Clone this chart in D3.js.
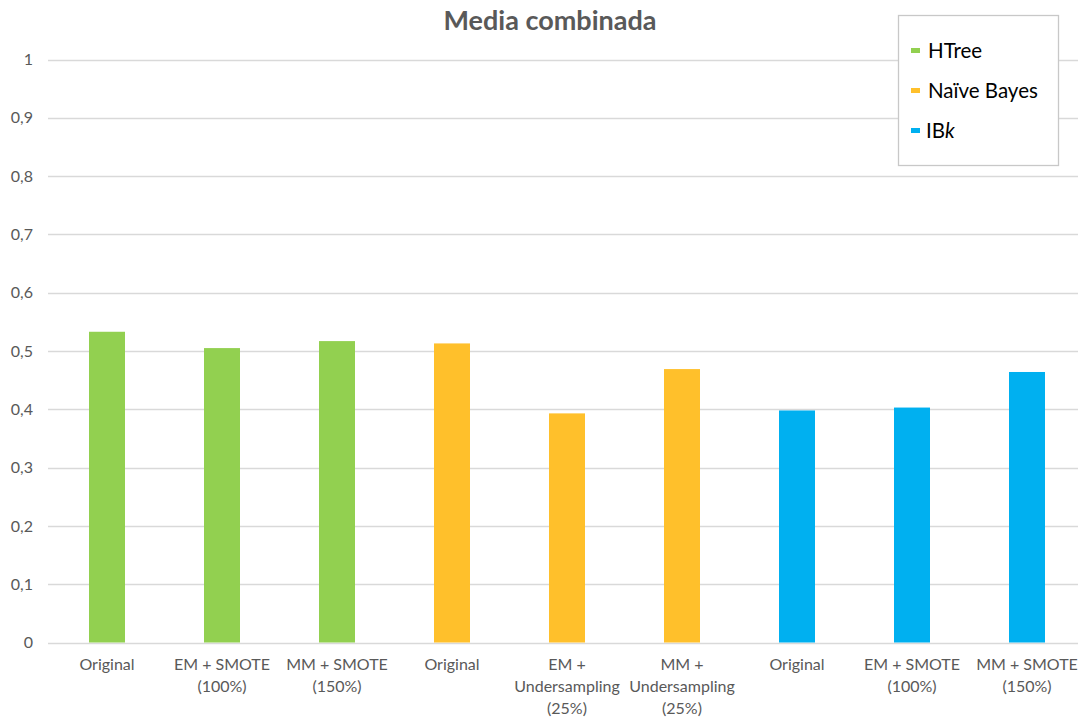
<!DOCTYPE html>
<html>
<head>
<meta charset="utf-8">
<script src="https://cdn.jsdelivr.net/npm/d3@7"></script>
<style>
  html, body { margin: 0; padding: 0; background: #fff; }
  svg { display: block; }
</style>
</head>
<body>
<svg id="chart" width="1078" height="717"></svg>
<script>
// Category labels (multi-line) along the x axis
const categories = [
  ["Original"],
  ["EM + SMOTE", "(100%)"],
  ["MM + SMOTE", "(150%)"],
  ["Original"],
  ["EM +", "Undersampling", "(25%)"],
  ["MM +", "Undersampling", "(25%)"],
  ["Original"],
  ["EM + SMOTE", "(100%)"],
  ["MM + SMOTE", "(150%)"]
];
// Classifier each bar belongs to
const classifiers = ["HTree", "HTree", "HTree", "Naïve Bayes", "Naïve Bayes", "Naïve Bayes", "IBk", "IBk", "IBk"];
// Combined mean values
const values = [0.533, 0.505, 0.517, 0.513, 0.393, 0.469, 0.398, 0.403, 0.464];
const yTicks = [0, 0.1, 0.2, 0.3, 0.4, 0.5, 0.6, 0.7, 0.8, 0.9, 1];
const seriesNames = ["HTree", "Naïve Bayes", "IBk"];
const seriesColors = ["#92D050", "#FFC02B", "#00B0F0"];

const svg = d3.select("#chart");
const font = "Lato, 'Open Sans', 'Liberation Sans', sans-serif";

const x = d3.scaleBand()
  .domain(d3.range(categories.length))
  .range([49.5, 1084.5])
  .paddingInner(0.687)
  .paddingOuter(0.3435);
const y = d3.scaleLinear().domain([0, 1]).range([642.5, 59.5]);
const color = d3.scaleOrdinal().domain(seriesNames).range(seriesColors);

// Horizontal gridlines
svg.append("g")
  .selectAll("line")
  .data(yTicks)
  .join("line")
  .attr("x1", 48).attr("x2", 1078)
  .attr("y1", d => Math.round(y(d)) + 0.5)
  .attr("y2", d => Math.round(y(d)) + 0.5)
  .attr("stroke", "#d9d9d9")
  .attr("stroke-width", 1.3);

// Y tick labels
svg.append("g")
  .selectAll("text")
  .data(yTicks)
  .join("text")
  .attr("x", 33)
  .attr("y", d => y(d))
  .attr("dy", "0.35em")
  .attr("text-anchor", "end")
  .attr("font-family", font)
  .attr("font-size", 16)
  .attr("fill", "#595959")
  .text(d => d3.format(".1~f")(d).replace(".", ","));

// Bars
svg.append("g")
  .selectAll("rect")
  .data(values)
  .join("rect")
  .attr("x", (d, i) => x(i))
  .attr("width", x.bandwidth())
  .attr("y", d => y(d))
  .attr("height", d => y(0) - y(d))
  .attr("fill", (d, i) => color(classifiers[i]));

// X category labels
const xl = svg.append("g")
  .selectAll("text")
  .data(categories)
  .join("text")
  .attr("x", (d, i) => x(i) + x.bandwidth() / 2)
  .attr("y", 670)
  .attr("text-anchor", "middle")
  .attr("font-family", font)
  .attr("font-size", 16)
  .attr("fill", "#595959");
xl.selectAll("tspan")
  .data(d => d)
  .join("tspan")
  .attr("x", function () { return d3.select(this.parentNode).attr("x"); })
  .attr("dy", (d, i) => i === 0 ? 0 : 22)
  .text(d => d);

// Title
svg.append("text")
  .attr("x", 550)
  .attr("y", 30)
  .attr("text-anchor", "middle")
  .attr("font-family", font)
  .attr("font-size", 27)
  .attr("font-weight", "bold")
  .attr("fill", "#595959")
  .text("Media combinada");

// Legend
const lg = svg.append("g");
lg.append("rect")
  .attr("x", 898.5).attr("y", 15.5)
  .attr("width", 160).attr("height", 150)
  .attr("fill", "#fff")
  .attr("stroke", "#c8c8c8")
  .attr("stroke-width", 1.3);
const items = lg.selectAll("g")
  .data(seriesNames)
  .join("g")
  .attr("transform", (d, i) => `translate(911, ${51 + i * 40})`);
items.append("rect")
  .attr("x", 0).attr("y", -3)
  .attr("width", 9).attr("height", 5)
  .attr("fill", d => color(d));
const lt = items.append("text")
  .attr("x", d => d === "IBk" ? 15 : 17)
  .attr("y", 0)
  .attr("dy", "0.35em")
  .attr("font-family", font)
  .attr("font-size", 20.5)
  .attr("fill", "#000");
lt.each(function (d) {
  const t = d3.select(this);
  if (d === "IBk") {
    t.append("tspan").text("IB");
    t.append("tspan").attr("font-style", "italic").text("k");
  } else {
    t.text(d);
  }
});
</script>
</body>
</html>
